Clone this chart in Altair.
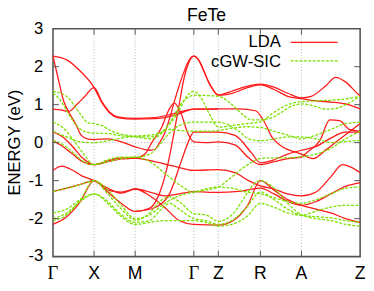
import altair as alt
import pandas as pd

TITLE = "FeTe"
Y_TITLE = "ENERGY (eV)"
K_TICKS = [0, 42, 84, 144, 169, 212, 254, 314]
K_LABELS = ["Γ", "X", "M", "Γ", "Z", "R", "A", "Z"]
E_TICKS = [-3, -2, -1, 0, 1, 2, 3]
SERIES = ["LDA", "cGW-SIC"]
COLORS = ["#ff1a1a", "#7be000"]

# ---- LDA bands: (k-path position, energy eV) ----
LDA_1 = [(0, 2.28), (14, 2.18), (28, 1.88), (42, 1.45), (50, 1.05), (58, 0.78), (66, 0.66), (84, 0.62),
         (104, 0.63), (124, 0.72), (144, 0.88), (169, 0.89), (190, 0.89), (207, 0.84), (216, 0.55),
         (224, 0.14), (233, -0.08), (254, -0.3), (266, -0.42), (279, -0.19), (296, 0.15), (314, 0.5)]
LDA_2 = [(0, 2.28), (6, 1.61), (11, 1.09), (16, 0.81), (23, 0.5), (29, 0.19), (35, 0.1), (42, 0.08),
         (56, 0.1), (70, 0.02), (84, -0.11), (99, -0.2), (104, -0.18), (109, 0.0), (114, 0.24),
         (119, 0.62), (124, 1.08), (129, 1.5), (134, 1.87), (139, 2.17), (144, 2.28), (149, 2.17),
         (154, 1.9), (159, 1.6), (163, 1.42), (169, 1.25), (183, 1.36), (198, 1.48), (212, 1.54),
         (226, 1.46), (240, 1.3), (254, 1.18), (264, 1.22), (279, 1.5), (289, 1.72), (299, 1.6),
         (309, 1.35), (314, 1.22)]
LDA_3 = [(0, 0.88), (8, 0.86), (16, 0.82), (24, 1.0), (32, 1.2), (42, 1.45), (50, 1.08), (58, 0.8),
         (66, 0.68), (84, 0.64), (104, 0.66), (124, 0.77), (144, 0.88), (169, 0.88)]
LDA_4 = [(0, 0.28), (10, 0.15), (20, -0.1), (30, -0.4), (42, -0.58), (56, -0.5), (70, -0.43), (84, -0.41),
         (94, -0.3), (101, 0.0), (111, 0.4), (118, 0.84), (124, 1.04), (131, 0.76), (138, 0.24),
         (144, 0.02), (156, 0.0), (169, 0.02), (186, -0.06), (200, -0.4), (212, -0.58), (226, -0.5),
         (240, -0.42), (254, -0.38), (259, -0.27), (273, 0.06), (283, 0.6), (293, 0.58), (303, 0.35),
         (314, 0.3)]
LDA_5 = [(0, -2.15), (14, -1.95), (28, -1.55), (42, -1.0), (56, -1.3), (70, -1.6), (84, -1.81),
         (99, -1.72), (106, -1.5), (112, -1.1), (118, -0.5), (124, 0.3), (129, 1.0), (134, 1.7),
         (139, 2.12), (144, 2.28), (149, 2.17), (154, 1.9), (159, 1.6), (163, 1.42), (169, 1.25),
         (183, 1.3), (198, 1.44), (212, 1.52), (226, 1.4), (240, 1.22), (254, 1.16), (269, 1.1),
         (284, 1.07), (299, 1.02), (314, 0.89)]
LDA_6 = [(0, 0.05), (10, -0.1), (20, -0.3), (30, -0.5), (42, -0.58), (56, -0.48), (70, -0.4), (84, -0.41),
         (104, -0.5), (124, -0.62), (144, -0.73), (169, -0.71), (186, -0.79), (200, -1.0), (212, -1.14),
         (226, -1.22), (240, -1.35), (254, -1.4), (269, -1.3), (284, -0.9), (296, -0.58), (305, -0.65),
         (314, -0.79)]
LDA_7 = [(0, -0.73), (9, -0.62), (18, -0.7), (30, -0.88), (42, -1.0), (56, -1.2), (70, -1.33), (84, -1.22),
         (99, -1.3), (114, -1.4), (129, -1.35), (144, -1.29), (169, -1.31), (190, -1.28), (212, -1.2),
         (226, -1.35), (240, -1.55), (254, -1.65), (269, -1.55), (284, -1.35), (299, -1.15), (314, -1.05)]
LDA_8 = [(0, -1.29), (14, -1.2), (28, -1.1), (42, -1.0), (56, -1.25), (70, -1.3), (84, -1.22),
         (99, -1.4), (114, -1.7), (129, -2.05), (144, -2.15), (169, -2.17), (183, -2.07), (199, -1.65),
         (212, -1.0), (226, -1.25), (240, -1.5), (254, -1.65), (269, -1.75), (284, -1.85), (299, -2.0),
         (314, -2.1)]
LDA_9 = [(84, -1.81), (101, -1.74), (118, -1.4), (131, -0.5), (138, 0.0), (144, 0.28), (169, 0.28),
         (186, 0.19), (203, -0.27), (212, -0.53), (226, -0.45), (240, -0.3), (254, -0.2), (269, -0.1),
         (284, 0.12), (299, 0.28), (314, 0.28)]

# ---- cGW-SIC bands ----
CGW_1 = [(0, 1.35), (14, 1.22), (28, 0.75), (36, 0.52), (42, 0.5), (50, 0.45), (60, 0.3), (70, 0.22),
         (84, 0.17), (99, 0.15), (109, 0.25), (119, 0.48), (129, 0.85), (136, 1.2), (144, 1.35),
         (152, 1.15), (160, 0.75), (169, 0.41), (183, 0.45), (198, 0.5), (212, 0.55), (226, 0.8),
         (240, 1.0), (254, 1.08), (269, 1.1), (284, 1.12), (299, 1.15), (314, 1.22)]
CGW_2 = [(0, 1.3), (8, 1.1), (16, 0.75), (26, 0.4), (34, 0.28), (42, 0.25), (56, 0.24), (70, 0.18),
         (84, 0.15), (99, 0.1), (109, 0.2), (119, 0.5), (129, 0.95), (136, 1.15), (144, 1.25), (156, 1.24),
         (169, 1.22), (183, 1.0), (193, 0.76), (203, 0.6), (212, 0.6), (226, 0.68), (233, 0.79),
         (243, 0.95), (254, 1.02), (269, 0.95), (279, 0.88), (289, 0.9), (299, 1.0), (314, 1.22)]
CGW_3 = [(0, 0.54), (10, 0.4), (20, 0.1), (30, -0.25), (42, -0.58), (56, -0.45), (70, -0.38), (84, -0.38),
         (99, -0.3), (109, -0.05), (119, 0.25), (129, 0.45), (144, 0.54), (156, 0.54), (169, 0.54),
         (190, 0.3), (200, 0.1), (212, 0.05), (226, 0.1), (240, 0.15), (254, 0.15), (269, 0.1),
         (284, 0.0), (299, 0.03), (314, 0.06)]
CGW_4 = [(0, 0.3), (14, 0.15), (28, 0.02), (42, 0.0), (56, 0.05), (70, 0.12), (84, 0.17), (99, 0.2),
         (109, 0.25), (119, 0.35), (129, 0.32), (144, 0.3), (156, 0.3), (169, 0.32), (183, 0.38),
         (198, 0.42), (212, 0.4), (226, 0.3), (240, 0.2), (254, 0.1), (269, 0.2), (284, 0.35),
         (299, 0.5), (314, 0.54)]
CGW_5 = [(0, 0.06), (10, -0.05), (20, -0.25), (30, -0.48), (42, -0.58), (56, -0.5), (70, -0.42),
         (84, -0.38), (99, -0.5), (114, -0.8), (129, -1.1), (144, -1.3), (156, -1.25), (169, -1.17),
         (183, -0.9), (198, -0.6), (212, -0.42), (226, -0.4), (240, -0.4), (254, -0.37), (269, -0.3),
         (284, -0.15), (299, 0.1), (314, 0.3)]
CGW_6 = [(0, -2.05), (14, -1.9), (28, -1.5), (42, -1.0), (56, -1.35), (70, -1.75), (84, -2.04),
         (99, -1.85), (109, -1.55), (119, -1.43), (129, -1.55), (144, -1.87), (156, -1.9), (169, -2.07),
         (183, -1.9), (198, -1.35), (205, -1.1), (212, -1.0), (226, -1.2), (240, -1.6), (254, -1.9),
         (269, -2.0), (284, -2.05), (299, -2.15), (314, -2.2)]
CGW_7 = [(0, -2.0), (14, -1.85), (28, -1.55), (42, -1.35), (56, -1.55), (70, -1.9), (84, -2.1),
         (99, -2.05), (109, -1.8), (119, -1.6), (129, -1.75), (144, -2.0), (156, -2.05), (169, -2.15),
         (183, -2.05), (198, -1.7), (212, -1.3), (226, -1.5), (240, -1.75), (254, -1.91), (269, -1.95),
         (284, -1.98), (299, -2.05), (314, -2.1)]
CGW_8 = [(0, -1.85), (14, -1.75), (28, -1.5), (42, -1.35), (56, -1.6), (70, -1.95), (84, -2.15),
         (99, -2.1), (114, -2.05), (129, -2.05), (144, -2.05), (156, -2.1), (169, -2.2), (183, -2.15),
         (198, -1.95), (212, -1.6), (226, -1.7), (240, -1.85), (254, -1.91), (269, -1.8), (284, -1.7),
         (299, -1.65), (314, -1.65)]
CGW_9 = [(0, -1.29), (14, -1.2), (28, -1.1), (42, -1.0), (56, -1.25), (70, -1.65), (84, -2.0),
         (99, -1.9), (114, -1.6), (129, -1.4), (144, -1.3), (169, -1.17), (183, -1.2), (198, -1.3),
         (212, -1.35), (226, -1.45), (240, -1.55), (254, -1.6), (269, -1.5), (284, -1.35), (299, -1.2),
         (314, -1.17)]

LDA_BANDS = [LDA_1, LDA_2, LDA_3, LDA_4, LDA_5, LDA_6, LDA_7, LDA_8, LDA_9]
CGW_BANDS = [CGW_1, CGW_2, CGW_3, CGW_4, CGW_5, CGW_6, CGW_7, CGW_8, CGW_9]


def to_frame(bands, series):
    rows = []
    for i, band in enumerate(bands):
        for k, e in band:
            rows.append({"k": k, "E": e, "band": f"{series}-{i}"})
    return pd.DataFrame(rows)


df_lda = to_frame(LDA_BANDS, SERIES[0])
df_cgw = to_frame(CGW_BANDS, SERIES[1])

W, H = 314, 233
xs = alt.Scale(domain=[K_TICKS[0], K_TICKS[-1]], nice=False, zero=False)
ys = alt.Scale(domain=[E_TICKS[0], E_TICKS[-1]], nice=False, zero=False)

df_ktick = pd.DataFrame({"k": K_TICKS, "label": K_LABELS})
df_kgrid = pd.DataFrame({"k": K_TICKS[1:-1]})
df_etick = pd.DataFrame({"E": E_TICKS, "label": [str(v) for v in E_TICKS]})
df_yt = pd.DataFrame({"E": E_TICKS[1:-1]})
df_zero = pd.DataFrame({"E": [0]})

grid_style = dict(color="#b4b4b4", strokeDash=[1, 2], strokeWidth=1)
vgrid = alt.Chart(df_kgrid).mark_rule(**grid_style).encode(
    x=alt.X("k:Q", scale=xs, axis=None), y=alt.value(0), y2=alt.value(H))
hgrid = alt.Chart(df_zero).mark_rule(**grid_style).encode(
    y=alt.Y("E:Q", scale=ys, axis=None), x=alt.value(0), x2=alt.value(W))

lda = alt.Chart(df_lda).mark_line(interpolate="monotone", color=COLORS[0], strokeWidth=1.3, clip=True).encode(
    x=alt.X("k:Q", scale=xs, axis=None), y=alt.Y("E:Q", scale=ys, axis=None), detail="band:N")
cgw = alt.Chart(df_cgw).mark_line(interpolate="monotone", color=COLORS[1], strokeWidth=1.3,
                                  strokeDash=[3, 1.5], clip=True).encode(
    x=alt.X("k:Q", scale=xs, axis=None), y=alt.Y("E:Q", scale=ys, axis=None), detail="band:N")

tick_style = dict(color="#555555", strokeWidth=1)
yt_left = alt.Chart(df_yt).mark_rule(**tick_style).encode(
    y=alt.Y("E:Q", scale=ys, axis=None), x=alt.value(0), x2=alt.value(6))
yt_right = alt.Chart(df_yt).mark_rule(**tick_style).encode(
    y=alt.Y("E:Q", scale=ys, axis=None), x=alt.value(W - 6), x2=alt.value(W))
xt_bottom = alt.Chart(df_kgrid).mark_rule(**tick_style).encode(
    x=alt.X("k:Q", scale=xs, axis=None), y=alt.value(H - 6), y2=alt.value(H))
xt_top = alt.Chart(df_kgrid).mark_rule(**tick_style).encode(
    x=alt.X("k:Q", scale=xs, axis=None), y=alt.value(0), y2=alt.value(6))

# tick labels drawn as text marks (Γ in a serif face, others sans)
is_gamma = alt.datum.label == K_LABELS[0]
xlab_sans = alt.Chart(df_ktick).transform_filter(~is_gamma).mark_text(
    align="center", baseline="alphabetic", fontSize=18, font="Liberation Sans", color="black").encode(
    x=alt.X("k:Q", scale=xs, axis=None), y=alt.value(H + 23), text="label:N")
xlab_serif = alt.Chart(df_ktick).transform_filter(is_gamma).mark_text(
    align="center", baseline="alphabetic", fontSize=19, font="Liberation Serif", color="black").encode(
    x=alt.X("k:Q", scale=xs, axis=None), y=alt.value(H + 23), text="label:N")
ylab = alt.Chart(df_etick).mark_text(
    align="right", baseline="middle", fontSize=17, font="Liberation Sans", color="black").encode(
    y=alt.Y("E:Q", scale=ys, axis=None), x=alt.value(-10), text="label:N")
ytitle = alt.Chart(pd.DataFrame({"t": [Y_TITLE]})).mark_text(
    align="center", baseline="middle", angle=270, fontSize=17, font="Liberation Sans", color="black").encode(
    x=alt.value(-39), y=alt.value(H / 2), text="t:N")
title = alt.Chart(pd.DataFrame({"t": [TITLE]})).mark_text(
    align="center", baseline="alphabetic", fontSize=18, font="Liberation Sans", color="black").encode(
    x=alt.value(W / 2), y=alt.value(-8), text="t:N")

df_leg = pd.DataFrame({"name": SERIES})
leg_text_lda = alt.Chart(df_leg.iloc[[0]]).mark_text(
    align="right", baseline="middle", fontSize=17, font="Liberation Sans", color="black").encode(
    text="name:N", x=alt.value(233), y=alt.value(14))
leg_text_cgw = alt.Chart(df_leg.iloc[[1]]).mark_text(
    align="right", baseline="middle", fontSize=17, font="Liberation Sans", color="black").encode(
    text="name:N", x=alt.value(233), y=alt.value(34))
leg_line_lda = alt.Chart(df_leg.iloc[[0]]).mark_rule(color=COLORS[0], strokeWidth=1.3).encode(
    x=alt.value(243), x2=alt.value(291), y=alt.value(14))
leg_line_cgw = alt.Chart(df_leg.iloc[[1]]).mark_rule(color=COLORS[1], strokeWidth=1.3,
                                                     strokeDash=[3, 1.5]).encode(
    x=alt.value(243), x2=alt.value(291), y=alt.value(33))

chart = alt.layer(
    vgrid, hgrid, lda, cgw, yt_left, yt_right, xt_bottom, xt_top,
    xlab_sans, xlab_serif, ylab, ytitle, title,
    leg_text_lda, leg_text_cgw, leg_line_lda, leg_line_cgw
).properties(
    width=W, height=H,
    autosize=alt.AutoSizeParams(type="none"),
    padding={"left": 46, "top": 18, "right": 6, "bottom": 32},
).configure_view(stroke="#555555", strokeWidth=1.6)

chart.save("out.html", embed_options={"renderer": "svg", "actions": False})
